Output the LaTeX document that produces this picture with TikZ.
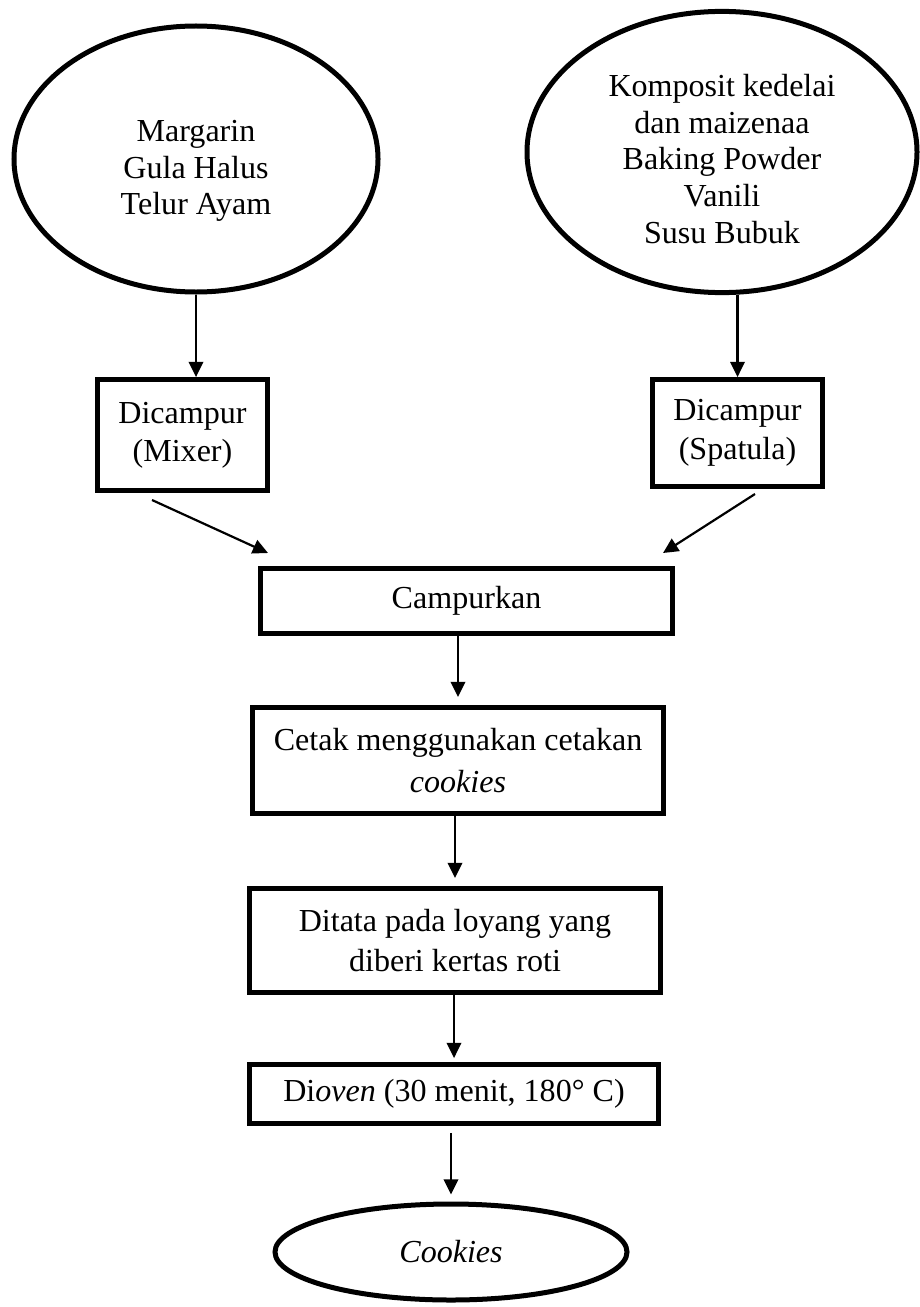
\documentclass[tikz,border=0pt]{standalone}
\usepackage{fontspec}
\setmainfont{Liberation Serif}
\usepackage{tikz}
\usetikzlibrary{shapes,arrows.meta}

\begin{document}
\begin{tikzpicture}[x=0.25mm,y=-0.25mm,font=\fontsize{22.8}{26}\selectfont,
		bahan/.style={draw,ellipse,line width=1.25mm,align=center,inner sep=0pt},
		proses/.style={draw,rectangle,line width=1.25mm,align=center,inner sep=0pt}]
		\useasboundingbox (0,0) rectangle (920,1307);
		% bahan
		\node[bahan,minimum width=9.1cm,minimum height=6.65cm] (E1) at (196,159) {};
		\node[align=center] (E1t) at (196,171) {Margarin\\Gula Halus\\Telur Ayam};
		\node[bahan,minimum width=9.75cm,minimum height=7.03cm] (E2) at (722,152) {};
		\node[align=center] (E2t) at (722,159) {Komposit kedelai\\dan maizenaa\\Baking Powder\\Vanili\\Susu Bubuk};
		% pencampuran
		\node[proses,minimum width=4.25cm,minimum height=2.77cm,font=\fontsize{22.8}{27}\selectfont] (M1) at (182.5,435) {Dicampur\\(Mixer)};
		\node[proses,minimum width=4.25cm,minimum height=2.67cm,font=\fontsize{22.8}{28}\selectfont] (M2) at (737.5,433) {Dicampur\\(Spatula)};
		\node[proses,minimum width=10.3cm,minimum height=1.62cm] (C) at (466.5,601) {Campurkan};
		\node[proses,minimum width=10.27cm,minimum height=2.65cm,font=\fontsize{22.8}{30}\selectfont] (T) at (458,760.5) {Cetak menggunakan cetakan\\\textit{cookies}};
		\node[proses,minimum width=10.27cm,minimum height=2.6cm,font=\fontsize{22.8}{29}\selectfont] (L) at (455,940.5) {Ditata pada loyang yang\\diberi kertas roti};
		\node[proses,minimum width=10.22cm,minimum height=1.47cm] (O) at (454,1094) {Di\textit{oven} (30 menit, 180° C)};
		\node[bahan,minimum width=8.8cm,minimum height=2.4cm] (K) at (451,1252) {\textit{Cookies}};
		%
		\coordinate (m1out) at (152,500);
		\coordinate (c1in) at (268,553);
		\coordinate (m2out) at (755,494);
		\coordinate (c2in) at (663,553);
		%
		\path[-{Triangle[length=3.8mm,width=3.6mm]},line width=0.55mm]
		% bahan ke pencampuran
		(E1.south) edge (E1.south |- M1.north)
		(E2.south -| M2.north) edge (M2.north)
		% ke campurkan
		(m1out) edge (c1in)
		(m2out) edge (c2in)
		% alur tengah
		(T.north |- C.south) edge[shorten >=2mm] (T.north)
		(L.north |- T.south) edge[shorten >=2mm] (L.north)
		(O.north |- L.south) edge[shorten >=1mm] (O.north)
		(K.north |- O.south) edge[shorten <=1.75mm,shorten >=1.75mm] (K.north);
\end{tikzpicture}
\end{document}
